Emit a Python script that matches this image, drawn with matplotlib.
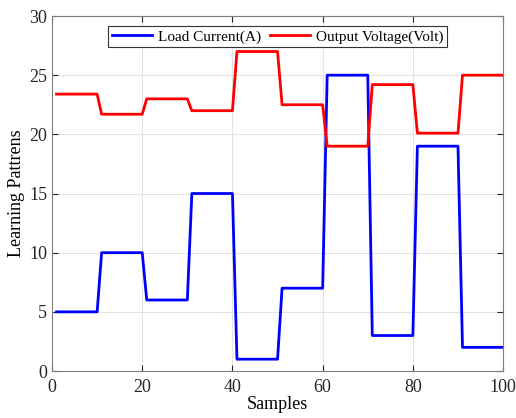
import numpy as np
import matplotlib
matplotlib.use("Agg")
import matplotlib.pyplot as plt

plt.rcParams['font.family'] = ['Liberation Serif', 'DejaVu Serif']

# niveles por bloque de 10 muestras
niveles_corriente = [5, 10, 6, 15, 1, 7, 25, 3, 19, 2]
niveles_voltaje = [23.4, 21.7, 23.0, 22.0, 27.0, 22.5, 19.0, 24.2, 20.1, 25.0]
muestras = np.arange(1, 101)

corriente = np.repeat(niveles_corriente, 10)
voltaje = np.repeat(niveles_voltaje, 10)

fig = plt.figure(figsize=(5.16, 4.18), dpi=100)
ax = fig.add_axes([0.1008, 0.1124, 0.8742, 0.8493])

ax.plot(muestras, corriente, color='blue', lw=2, label='Load Current(A)')
ax.plot(muestras, voltaje, color='red', lw=2, label='Output Voltage(Volt)')

ax.set_xlim(0, 100)
ax.set_ylim(0, 30)
ax.set_xticks(range(0, 101, 20))
ax.set_yticks(range(0, 31, 5))
ax.grid(True, color='#e3e3e3', lw=0.8)
ax.tick_params(direction='in', top=True, right=True, labelsize=13, colors='#262626', length=4)
ax.tick_params(axis='x', pad=6)
for s in ax.spines.values():
    s.set_color('#7f7f7f')

ax.set_xlabel('Samples', fontsize=13, labelpad=0)
ax.set_ylabel('Learning Pattrens', fontsize=13, labelpad=3)

leg = ax.legend(loc='upper center', ncol=2, fontsize=11, frameon=True, fancybox=False,
                edgecolor='#333333', framealpha=1, borderpad=0.25, handlelength=2.6,
                handletextpad=0.4, columnspacing=0.6, borderaxespad=0,
                bbox_to_anchor=(0.5, 0.972))
leg.get_frame().set_linewidth(0.8)

fig.savefig('out.png', dpi=100)
